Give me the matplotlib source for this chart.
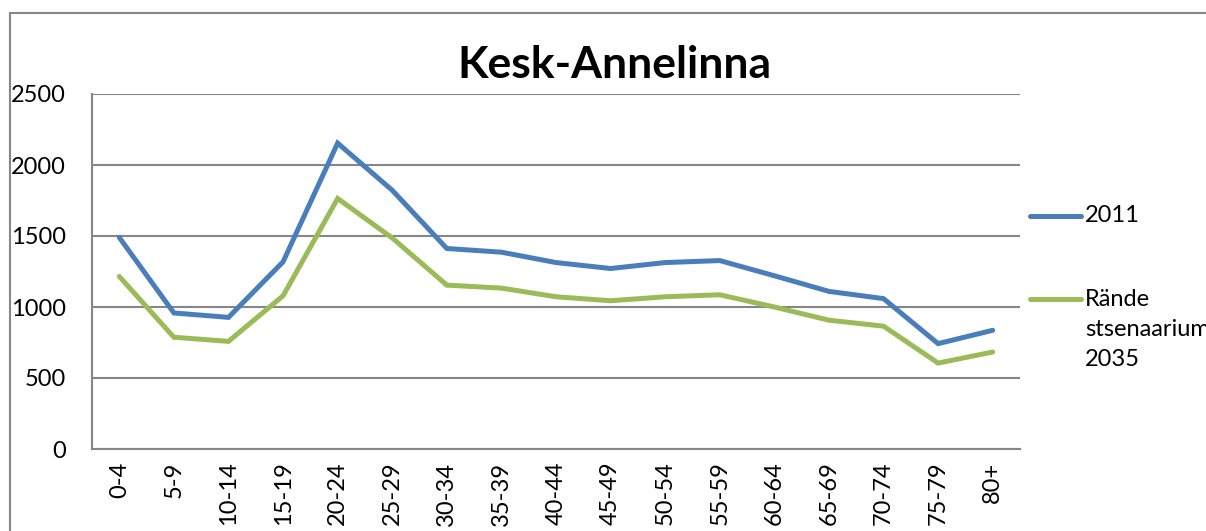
import numpy as np
import matplotlib.pyplot as plt
from matplotlib.patches import Rectangle
from matplotlib.lines import Line2D

# age groups and population counts
age_groups = ['0-4', '5-9', '10-14', '15-19', '20-24', '25-29', '30-34', '35-39',
              '40-44', '45-49', '50-54', '55-59', '60-64', '65-69', '70-74', '75-79', '80+']
pop_2011 = [1490, 958, 927, 1318, 2154, 1822, 1412, 1386, 1313, 1271, 1313, 1327,
            1220, 1110, 1059, 742, 836]
pop_2035 = [1215, 787, 758, 1079, 1764, 1486, 1154, 1133, 1072, 1044, 1072, 1086,
            1000, 907, 865, 605, 683]
series_names = ['2011', 'Rände\nstsenaarium\n2035']
series_colors = ['#4A7EBB', '#9BBB59']
y_ticks = [0, 500, 1000, 1500, 2000, 2500]

plt.rcParams['font.family'] = ['Lato', 'DejaVu Sans']

W, H = 1206, 531
fs = 17
fig = plt.figure(figsize=(W / 100, H / 100), dpi=100)

# outer chart border (runs off the right and bottom edges)
fig.patches.append(Rectangle((10 / W, -0.1), 1.2, 1 - 13 / H + 0.1, transform=fig.transFigure,
                             fill=False, edgecolor='#868686', lw=1.5))

ax = fig.add_axes([92 / W, 1 - 449 / H, (1020 - 92) / W, (449 - 94) / H])
x = np.arange(len(age_groups))
for vals, c, name in zip([pop_2011, pop_2035], series_colors, series_names):
    ax.plot(x, vals, color=c, lw=3.6, solid_capstyle='round', solid_joinstyle='miter', label=name)

ax.set_xlim(-0.5, len(age_groups) - 0.5)
ax.set_ylim(0, 2500)
ax.set_yticks(y_ticks)
ax.set_yticklabels([str(v) for v in y_ticks], fontsize=fs)
ax.set_xticks(x)
ax.set_xticklabels(age_groups, rotation=90, fontsize=fs)
ax.tick_params(axis='both', length=0)
ax.tick_params(axis='y', pad=19)
ax.tick_params(axis='x', pad=9)
ax.grid(axis='y', color='#868686', lw=1.5)
ax.set_axisbelow(True)
for s in ['top', 'right']:
    ax.spines[s].set_visible(False)
for s in ['left', 'bottom']:
    ax.spines[s].set_color('#868686')
    ax.spines[s].set_linewidth(1.5)

fig.text(614 / W, 1 - 65 / H, 'Kesk-Annelinna', fontsize=32, fontweight='bold',
         ha='center', va='center')

# legend drawn by hand so the handle sits on the first text row
leg_y = [216, 299]
for y0, c, name in zip(leg_y, series_colors, series_names):
    fig.add_artist(Line2D([1030 / W, 1081 / W], [1 - y0 / H] * 2, color=c, lw=3.6,
                          solid_capstyle='round', transform=fig.transFigure))
    for k, row in enumerate(name.split('\n')):
        fig.text(1085 / W, 1 - (y0 + 30 * k) / H, row, fontsize=fs, ha='left', va='center')

fig.savefig('out.png', dpi=100)
